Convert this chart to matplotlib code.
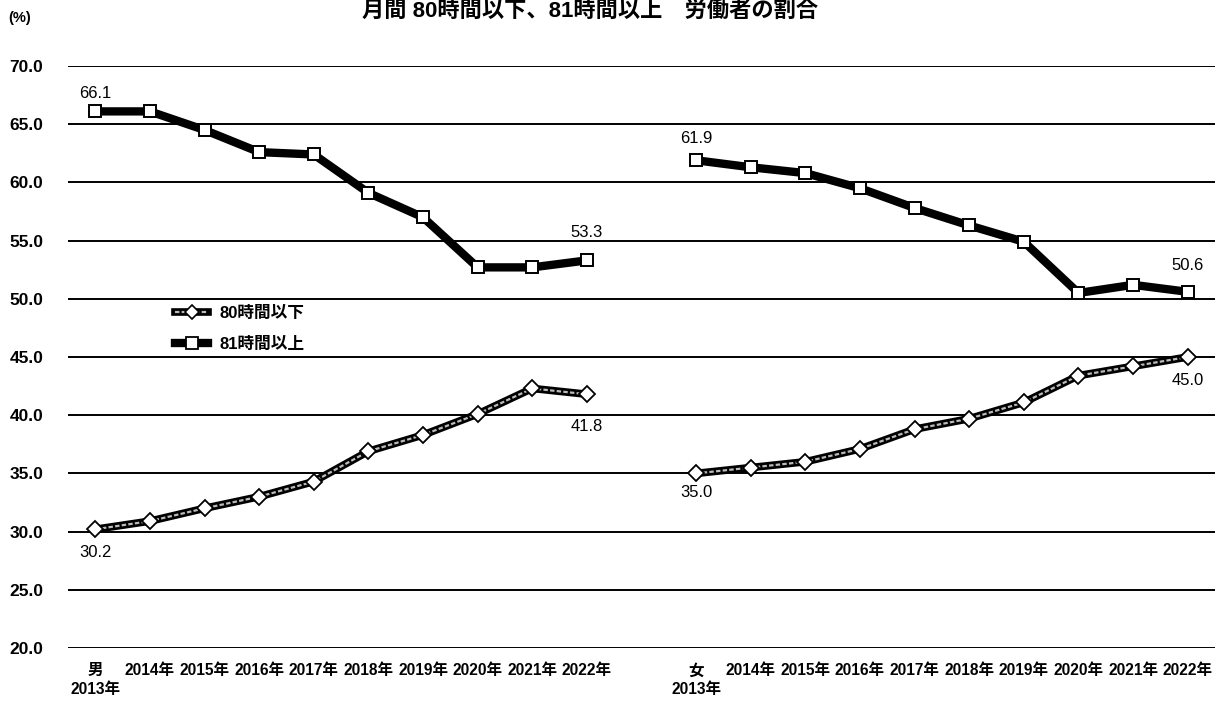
import matplotlib
matplotlib.use('Agg')
import matplotlib.pyplot as plt
from matplotlib.lines import Line2D
import numpy as np

plt.rcParams['font.family'] = ['Liberation Sans', 'Noto Sans CJK JP', 'DejaVu Sans']

years = ['2013年', '2014年', '2015年', '2016年', '2017年', '2018年', '2019年', '2020年', '2021年', '2022年']
groups = ['男', '女']
male_le80 = [30.2, 30.9, 32.0, 33.0, 34.3, 36.9, 38.3, 40.1, 42.3, 41.8]
male_ge81 = [66.1, 66.1, 64.5, 62.6, 62.4, 59.1, 57.0, 52.7, 52.7, 53.3]
female_le80 = [35.0, 35.5, 36.0, 37.1, 38.8, 39.7, 41.1, 43.4, 44.2, 45.0]
female_ge81 = [61.9, 61.3, 60.8, 59.5, 57.8, 56.3, 54.9, 50.5, 51.2, 50.6]
yticks = [20, 25, 30, 35, 40, 45, 50, 55, 60, 65, 70]

fig = plt.figure(figsize=(12.16, 7.07), dpi=100)
ax = fig.add_axes([68 / 1216, 1 - 648 / 707, 1147 / 1216, 582 / 707])

n = len(years)
xm = np.arange(n)
xf = np.arange(n) + n + 1

ax.set_ylim(20, 70)
ax.set_xlim(-0.5, 2 * n + 0.5)
for v in yticks:
    ax.axhline(v, color='black', lw=1.4, zorder=1)


def draw_le80(x, y):
    ax.plot(x, y, color='black', lw=5.5, zorder=3, solid_capstyle='butt')
    ax.plot(x, y, color='#bbbbbb', lw=1.6, ls=(0, (2, 1)), zorder=4)
    ax.plot(x, y, ls='none', marker='D', ms=8, mfc='white', mec='black', mew=1.3, zorder=5)


def draw_ge81(x, y):
    ax.plot(x, y, color='black', lw=6, zorder=3)
    ax.plot(x, y, ls='none', marker='s', ms=9, mfc='white', mec='black', mew=1.4, zorder=5)


draw_le80(xm, male_le80)
draw_le80(xf, female_le80)
draw_ge81(xm, male_ge81)
draw_ge81(xf, female_ge81)

# first / last value labels (offsets in points)
label_specs = [
    (xm, male_ge81, (13, 20)),
    (xf, female_ge81, (16, 19)),
    (xm, male_le80, (-17, -23)),
    (xf, female_le80, (-14, -17)),
]
for x, series, offs in label_specs:
    for i, off in zip((0, n - 1), offs):
        ax.annotate(f'{series[i]:.1f}', (x[i], series[i]), xytext=(0, off),
                    textcoords='offset points', ha='center', va='center',
                    fontsize=12, zorder=6)

ticks = list(xm) + list(xf)
labels = [f'{groups[0]}\n{years[0]}'] + years[1:] + [f'{groups[1]}\n{years[0]}'] + years[1:]
ax.set_xticks(ticks)
ax.set_xticklabels(labels, fontsize=11.2, fontweight='bold', va='top', linespacing=1.3)
ax.tick_params(axis='x', length=0, pad=11)
ax.set_yticks(yticks)
ax.set_yticklabels([f'{v:.1f}' for v in yticks], fontsize=12.5, fontweight='bold', ha='left')
ax.tick_params(axis='y', length=0, pad=42)
for s in ax.spines.values():
    s.set_visible(False)

h1 = (Line2D([], [], color='black', lw=5.5),
      Line2D([], [], color='#bbbbbb', lw=1.6, ls=(0, (2, 1))),
      Line2D([], [], ls='none', marker='D', ms=7, mfc='white', mec='black', mew=1.2))
h2 = (Line2D([], [], color='black', lw=6),
      Line2D([], [], ls='none', marker='s', ms=8, mfc='white', mec='black', mew=1.3))
ax.legend([h1, h2], ['80時間以下', '81時間以上'], loc='upper left',
          bbox_to_anchor=((175 - 68) / 1147, (648 - 306) / 582), frameon=False,
          borderaxespad=0, borderpad=0,
          handlelength=2.0, handletextpad=0.7, labelspacing=0.95,
          prop={'weight': 'bold', 'size': 12})

fig.text(8 / 1216, 1 - 18 / 707, '(%)', fontsize=10.5, fontweight='bold', va='center')
fig.text(590 / 1216, 1 - 1 / 707, '月間 80時間以下、81時間以上　労働者の割合',
         fontsize=16, fontweight='bold', ha='center', va='top')

fig.savefig('out.png', dpi=100)
